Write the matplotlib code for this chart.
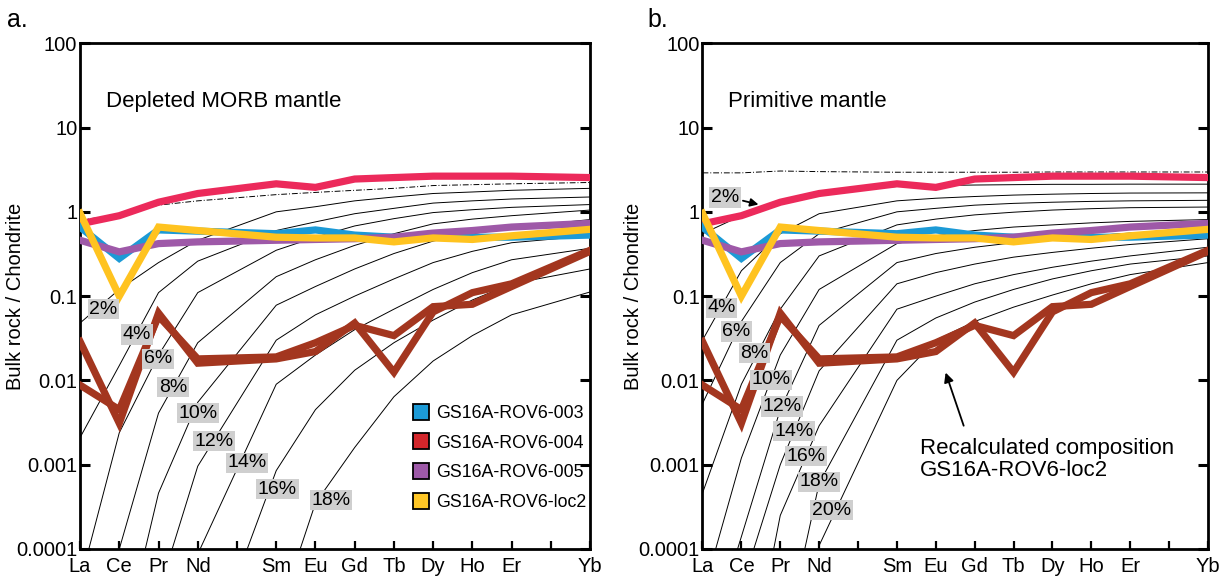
import numpy as np
import matplotlib
matplotlib.use('Agg')
import matplotlib.pyplot as plt
from matplotlib.lines import Line2D

plt.rcParams['font.family'] = ['Liberation Sans', 'DejaVu Sans']

# ---------------- data ----------------
all_elements = ['La', 'Ce', 'Pr', 'Nd', 'Pm', 'Sm', 'Eu', 'Gd', 'Tb', 'Dy', 'Ho', 'Er', 'Tm', 'Yb']
tick_labels = ['La', 'Ce', 'Pr', 'Nd', '', 'Sm', 'Eu', 'Gd', 'Tb', 'Dy', 'Ho', 'Er', '', 'Yb']
elements = ['La', 'Ce', 'Pr', 'Nd', 'Sm', 'Eu', 'Gd', 'Tb', 'Dy', 'Ho', 'Er', 'Yb']

y_ticks = [1e-4, 1e-3, 1e-2, 1e-1, 1, 10, 100]
y_tick_labels = ['0.0001', '0.001', '0.01', '0.1', '1', '10', '100']

# samples (chondrite normalised)
pink_ref = [0.72, 0.90, 1.30, 1.65, 2.15, 1.95, 2.45, 2.55, 2.65, 2.65, 2.65, 2.55]
rov6_003 = [0.66, 0.28, 0.61, 0.59, 0.55, 0.61, 0.53, 0.50, 0.50, 0.50, 0.50, 0.53]
rov6_004a = [0.029, 0.0031, 0.063, 0.016, 0.018, 0.022, 0.048, 0.0125, 0.065, 0.11, 0.14, 0.35]
rov6_004b = [0.0088, 0.0045, 0.058, 0.018, 0.019, 0.028, 0.045, 0.034, 0.075, 0.08, 0.13, 0.34]
rov6_005 = [0.46, 0.335, 0.42, 0.44, 0.46, 0.47, 0.48, 0.50, 0.56, 0.60, 0.66, 0.73]
rov6_loc2 = [0.96, 0.10, 0.66, 0.60, 0.50, 0.49, 0.49, 0.44, 0.49, 0.47, 0.52, 0.62]

# source compositions (dash-dot)
dmm_source = [0.80, 0.92, 1.20, 1.35, 1.60, 1.70, 1.80, 1.90, 2.05, 2.10, 2.15, 2.23]
pm_source = [2.90, 2.90, 3.05, 3.00, 2.95, 2.95, 2.95, 2.95, 2.97, 2.97, 2.97, 2.97]

# fractional melting residues, depleted MORB mantle source
dmm_02 = [0.048, 0.12, 0.25, 0.46, 1.0, 1.15, 1.35, 1.5, 1.65, 1.72, 1.8, 1.9]
dmm_04 = [0.0021, 0.015, 0.11, 0.26, 0.6, 0.76, 0.95, 1.1, 1.27, 1.35, 1.42, 1.5]
dmm_06 = [4e-5, 0.0024, 0.02, 0.11, 0.35, 0.5, 0.68, 0.83, 0.98, 1.06, 1.13, 1.22]
dmm_08 = [1e-7, 1e-4, 0.0041, 0.028, 0.17, 0.27, 0.4, 0.55, 0.72, 0.82, 0.9, 1.05]
dmm_10 = [1e-9, 5e-6, 0.00046, 0.0055, 0.078, 0.13, 0.21, 0.32, 0.45, 0.55, 0.65, 0.81]
dmm_12 = [1e-10, 1e-8, 3e-5, 0.00096, 0.03, 0.06, 0.1, 0.16, 0.25, 0.34, 0.43, 0.52]
dmm_14 = [1e-11, 1e-9, 1e-7, 8.7e-5, 0.009, 0.02, 0.04, 0.07, 0.12, 0.19, 0.27, 0.37]
dmm_16 = [1e-12, 1e-10, 1e-8, 2.6e-6, 0.00085, 0.0045, 0.0132, 0.028, 0.052, 0.09, 0.14, 0.21]
dmm_18 = [1e-13, 1e-11, 1e-9, 1e-7, 1.4e-5, 0.00035, 0.0016, 0.0064, 0.017, 0.034, 0.06, 0.112]
dmm_labels = ['2%', '4%', '6%', '8%', '10%', '12%', '14%', '16%', '18%']
# label anchor (element-axis position, value)
dmm_label_x = [0.59, 1.45, 1.99, 2.37, 3.01, 3.42, 4.26, 5.03, 6.40]
dmm_label_y = [0.070, 0.035, 0.018, 0.0083, 0.0041, 0.0019, 0.00105, 0.00051, 0.00038]

# fractional melting residues, primitive mantle source
pm_02 = [0.55, 0.9, 1.38, 1.7, 2.0, 2.05, 2.08, 2.1, 2.12, 2.12, 2.13, 2.13]
pm_04 = [0.03, 0.2, 0.55, 0.95, 1.35, 1.45, 1.52, 1.58, 1.62, 1.65, 1.67, 1.68]
pm_06 = [0.0053, 0.05, 0.25, 0.55, 1.0, 1.1, 1.2, 1.26, 1.3, 1.33, 1.35, 1.37]
pm_08 = [0.00046, 0.009, 0.07, 0.3, 0.7, 0.82, 0.92, 0.99, 1.05, 1.09, 1.12, 1.14]
pm_10 = [2.8e-5, 0.0012, 0.02, 0.12, 0.42, 0.52, 0.6, 0.66, 0.7, 0.74, 0.77, 0.81]
pm_12 = [4.5e-6, 0.00014, 0.0045, 0.045, 0.25, 0.32, 0.38, 0.43, 0.48, 0.52, 0.56, 0.62]
pm_14 = [1e-7, 3.4e-5, 0.001, 0.013, 0.14, 0.19, 0.24, 0.29, 0.33, 0.37, 0.41, 0.48]
pm_16 = [1e-8, 1.1e-6, 0.00025, 0.0029, 0.07, 0.1, 0.14, 0.18, 0.22, 0.26, 0.3, 0.38]
pm_18 = [1e-9, 1e-7, 4.7e-6, 0.0006, 0.03, 0.055, 0.085, 0.12, 0.16, 0.2, 0.24, 0.3]
pm_20 = [1e-10, 1e-8, 1e-6, 1.1e-4, 0.01, 0.03, 0.05, 0.074, 0.103, 0.14, 0.18, 0.25]
pm_labels = ['2%', '4%', '6%', '8%', '10%', '12%', '14%', '16%', '18%', '20%']
pm_label_x = [0.58, 0.49, 0.87, 1.34, 1.76, 2.04, 2.36, 2.66, 3.00, 3.32]
pm_label_y = [1.48, 0.073, 0.038, 0.021, 0.0102, 0.0049, 0.0025, 0.00126, 0.00063, 0.00029]

legend_names = ['GS16A-ROV6-003', 'GS16A-ROV6-004', 'GS16A-ROV6-005', 'GS16A-ROV6-loc2']
legend_colors = ['#1C9AD6', '#D3262B', '#9E59A8', '#FFC726']

# ---------------- styling ----------------
C_PINK = '#EC2A5B'
C_BLUE = '#1C9AD6'
C_BROWN = '#A3361F'
C_PURPLE = '#9E59A8'
C_YELLOW = '#FFC320'
LW = 5.2
xpos = [all_elements.index(e) for e in elements]

fig = plt.figure(figsize=(12.26, 5.76), dpi=100)
ax_a = fig.add_axes([0.0653, 0.0469, 0.416, 0.878])
ax_b = fig.add_axes([0.573, 0.0469, 0.4123, 0.878])

def style_axes(ax, label_x):
    ax.set_yscale('log')
    ax.set_ylim(1e-4, 100)
    ax.set_xlim(0, len(all_elements) - 1)
    ax.set_xticks(range(len(all_elements)))
    ax.set_xticklabels(tick_labels, fontsize=14.5)
    ax.set_yticks(y_ticks)
    ax.set_yticklabels(y_tick_labels, fontsize=14.5)
    ax.yaxis.set_minor_locator(matplotlib.ticker.NullLocator())
    ax.tick_params(axis='y', which='major', direction='in', length=7, width=2.2,
                   left=True, right=True, pad=2)
    ax.tick_params(axis='x', which='major', direction='in', length=6, width=1.6,
                   bottom=True, top=False, pad=6)
    for sp in ax.spines.values():
        sp.set_linewidth(2.0)
    ax.set_ylabel('Bulk rock / Chondrite', fontsize=14.5)
    ax.yaxis.set_label_coords(label_x, 0.5)

def draw_samples(ax):
    ax.plot(xpos, pink_ref, color=C_PINK, lw=LW, solid_joinstyle='miter', zorder=5)
    ax.plot(xpos, rov6_004a, color=C_BROWN, lw=LW, solid_joinstyle='miter', zorder=5)
    ax.plot(xpos, rov6_004b, color=C_BROWN, lw=LW, solid_joinstyle='miter', zorder=5)
    ax.plot(xpos, rov6_003, color=C_BLUE, lw=LW, solid_joinstyle='miter', zorder=6)
    ax.plot(xpos, rov6_005, color=C_PURPLE, lw=LW, solid_joinstyle='miter', zorder=7)
    ax.plot(xpos, rov6_loc2, color=C_YELLOW, lw=LW, solid_joinstyle='miter', zorder=8)

label_box = dict(boxstyle='square,pad=0.08', fc='#cfcfcf', ec='none')

# ---- panel a ----
style_axes(ax_a, -0.108)
for curve in [dmm_02, dmm_04, dmm_06, dmm_08, dmm_10, dmm_12, dmm_14, dmm_16, dmm_18]:
    ax_a.plot(xpos, curve, color='black', lw=0.7, zorder=2)
ax_a.plot(xpos, dmm_source, color='black', lw=0.7, ls=(0, (6, 2, 1, 2)), zorder=2)
draw_samples(ax_a)
for t, x, y in zip(dmm_labels, dmm_label_x, dmm_label_y):
    ax_a.text(x, y, t, fontsize=14, ha='center', va='center', bbox=label_box, zorder=9)
ax_a.text(0.05, 0.885, 'Depleted MORB mantle', transform=ax_a.transAxes, fontsize=16,
          ha='left', va='center')
handles = [Line2D([], [], ls='none', marker='s', markersize=11, markerfacecolor=c,
                  markeredgecolor='black', markeredgewidth=1.3) for c in legend_colors]
ax_a.legend(handles, legend_names, loc='lower left', bbox_to_anchor=(0.63, 0.05),
            frameon=False, fontsize=12.8, handlelength=0.8, handletextpad=0.45,
            labelspacing=0.72, borderpad=0.2)
fig.text(0.006, 0.965, 'a.', fontsize=18, ha='left', va='center')

# ---- panel b ----
style_axes(ax_b, -0.118)
for curve in [pm_02, pm_04, pm_06, pm_08, pm_10, pm_12, pm_14, pm_16, pm_18, pm_20]:
    ax_b.plot(xpos, curve, color='black', lw=0.7, zorder=2)
ax_b.plot(xpos, pm_source, color='black', lw=0.7, ls=(0, (6, 2, 1, 2)), zorder=2)
draw_samples(ax_b)
for t, x, y in zip(pm_labels, pm_label_x, pm_label_y):
    ax_b.text(x, y, t, fontsize=14, ha='center', va='center', bbox=label_box, zorder=9)
ax_b.annotate('', xy=(1.51, 1.2), xytext=(0.97, 1.38),
              arrowprops=dict(arrowstyle='-|>', color='black', lw=1.3,
                              mutation_scale=12), zorder=9)
ax_b.text(0.05, 0.885, 'Primitive mantle', transform=ax_b.transAxes, fontsize=16,
          ha='left', va='center')
ax_b.annotate('', xy=(6.23, 0.0133), xytext=(6.74, 0.0027),
              arrowprops=dict(arrowstyle='-|>', color='black', lw=1.3,
                              mutation_scale=14), zorder=9)
ax_b.text(5.6, 0.00115, 'Recalculated composition\nGS16A-ROV6-loc2', fontsize=16,
          ha='left', va='center', linespacing=1.1)
fig.text(0.528, 0.965, 'b.', fontsize=18, ha='left', va='center')

fig.savefig('out.png', dpi=100)
